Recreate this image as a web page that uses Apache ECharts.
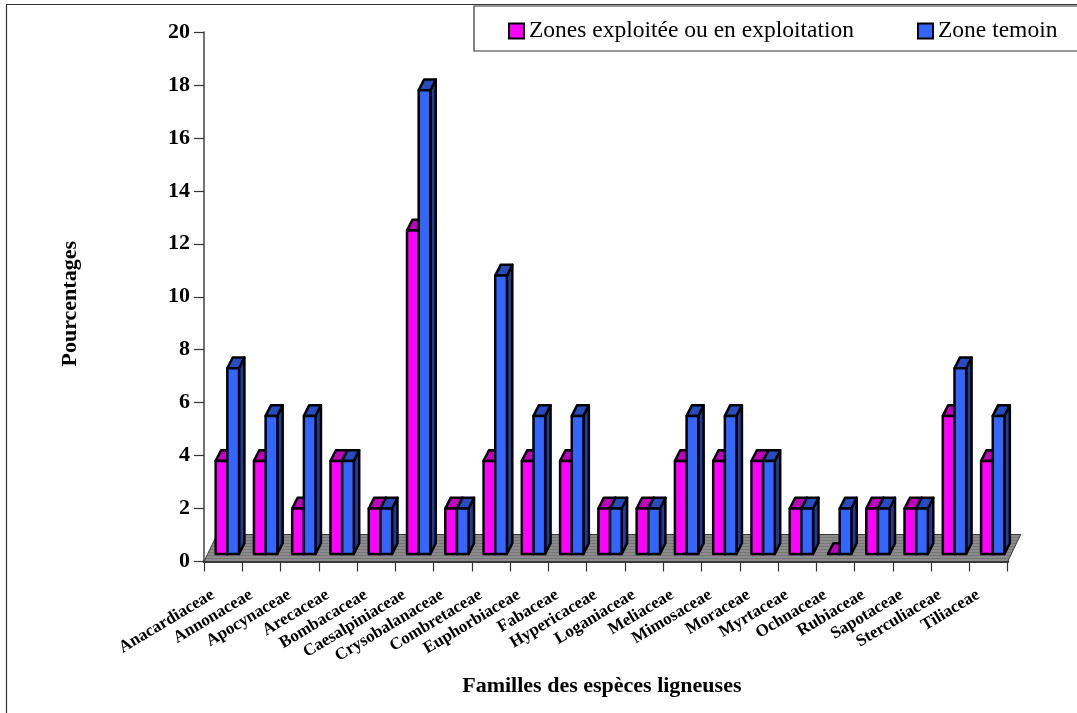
<!DOCTYPE html>
<html><head><meta charset="utf-8">
<style>html,body{margin:0;padding:0;background:#fff}#c{width:1077px;height:713px}</style>
<script src="https://cdn.jsdelivr.net/npm/echarts@6/dist/echarts.min.js"></script>
</head><body><div id="c"></div>
<script>
const categories = ['Anacardiaceae','Annonaceae','Apocynaceae','Arecaceae','Bombacaceae','Caesalpiniaceae','Crysobalanaceae','Combretaceae','Euphorbiaceae','Fabaceae','Hypericaceae','Loganiaceae','Meliaceae','Mimosaceae','Moraceae','Myrtaceae','Ochnaceae','Rubiaceae','Sapotaceae','Sterculiaceae','Tiliaceae'];
const exploitee = [3.8,3.8,2,3.8,2,12.5,2,3.8,3.8,3.8,2,2,3.8,3.8,3.8,2,0,2,2,5.5,3.8];
const temoin = [7.3,5.5,5.5,3.8,2,17.8,2,10.8,5.5,5.5,2,2,5.5,5.5,3.8,2,2,2,2,7.3,5.5];
const serieNames = ['Zones exploitée ou en exploitation','Zone temoin'];
const yTitle = 'Pourcentages', xTitle = 'Familles des espèces ligneuses';

const FONT = '"Liberation Serif","Times New Roman",serif';
const DX = 5.4, DY = 10.7, LIFT = 7.6, BAR_FRAC = 0.305, BAR_SHIFT = 4.2;
const FLOOR_DX = 13, FLOOR_DY = 27;

function makeStripe(){
  const c = document.createElement('canvas'); c.width = 4; c.height = 3;
  const g = c.getContext('2d');
  g.fillStyle = '#8c8c8c'; g.fillRect(0,0,4,3);
  g.fillStyle = '#767676'; g.fillRect(0,0,4,1);
  return c;
}
const stripe = {image: makeStripe(), repeat: 'repeat'};

function barRenderer(slot, front, top, side){
  return function(params, api){
    const i = api.value(0), v = api.value(1);
    const band = api.size([1,0])[0];
    const w = band * BAR_FRAC;
    const c0 = api.coord([i,0]), cv = api.coord([i,v]);
    const base = c0[1] - LIFT;
    const y = Math.min(cv[1], base);
    const x0 = c0[0] + BAR_SHIFT - w + slot * w, x1 = x0 + w;
    const st = (fill) => ({fill, stroke:'#000', lineWidth:2.5, lineJoin:'round'});
    const kids = [];
    kids.push({type:'polygon',shape:{points:[[x1,base],[x1+DX,base-DY],[x1+DX,y-DY],[x1,y]]},style:st(side)});
    kids.push({type:'polygon',shape:{points:[[x0,y],[x0+DX,y-DY],[x1+DX,y-DY],[x1,y]]},style:st(top)});
    if (base - y > 0.5) kids.push({type:'polygon',shape:{points:[[x0,base],[x0,y],[x1,y],[x1,base]]},style:st(front)});
    return {type:'group',children:kids};
  };
}
function floorRenderer(params, api){
  const band = api.size([1,0])[0];
  const y0 = api.coord([0,0])[1];
  const l = api.coord([0,0])[0] - band/2;
  const r = api.coord([categories.length-1,0])[0] + band/2;
  return {type:'polygon',silent:true,shape:{points:[[l,y0],[l+FLOOR_DX,y0-FLOOR_DY],[r+FLOOR_DX,y0-FLOOR_DY],[r,y0]]},
    style:{fill:stripe,stroke:'#3a3a3a',lineWidth:1}};
}

const chart = echarts.init(document.getElementById('c'),null,{renderer:'canvas'});
chart.setOption({
  animation:false,
  backgroundColor:'#fff',
  textStyle:{fontFamily:FONT},
  grid:{left:204,top:32,width:803.7,height:529.5,containLabel:false},
  legend:{
    data:serieNames,left:474,top:6,width:700,padding:[13,60,8,34],itemGap:63,itemWidth:15,itemHeight:15,
    orient:'horizontal',
    icon:'rect',borderColor:'#333',borderWidth:1.2,backgroundColor:'#fff',
    textStyle:{fontFamily:FONT,fontSize:23.5,color:'#000'},
    selectedMode:false,
    itemStyle:{borderColor:'#000',borderWidth:2}
  },
  xAxis:{
    type:'category',data:categories,boundaryGap:true,
    name:xTitle,nameLocation:'middle',nameGap:114,
    nameTextStyle:{fontFamily:FONT,fontSize:22,fontWeight:'bold',color:'#000',padding:[0,8,0,0]},
    axisLine:{show:true,lineStyle:{color:'#3a3a3a',width:3}},
    axisTick:{show:true,length:10,alignWithLabel:false,lineStyle:{color:'#333',width:1.2}},
    axisLabel:{interval:0,rotate:31,margin:26,padding:[0,12,0,0],fontFamily:FONT,fontSize:17,fontWeight:'bold',color:'#000'},
    splitLine:{show:false}
  },
  yAxis:{
    type:'value',min:0,max:20,interval:2,
    name:yTitle,nameLocation:'middle',nameGap:123,
    nameTextStyle:{fontFamily:FONT,fontSize:22,fontWeight:'bold',color:'#000',padding:[0,14,0,0]},
    axisLine:{show:true,lineStyle:{color:'#444',width:1.5}},
    axisTick:{show:true,length:10,lineStyle:{color:'#333',width:1.2}},
    axisLabel:{margin:14,fontFamily:FONT,fontSize:22,fontWeight:'bold',color:'#000'},
    splitLine:{show:false}
  },
  graphic:[
    {type:'polyline',z:-1,silent:true,shape:{points:[[6.5,713],[6.5,4.5],[1077,4.5]]},style:{fill:'none',stroke:'#333',lineWidth:1.2}}
  ],
  series:[
    {type:'custom',name:'floor',renderItem:floorRenderer,data:[[0,0]],encode:{x:0,y:1},z:1,silent:true},
    {type:'custom',name:serieNames[0],renderItem:barRenderer(0,'#FF00FF','#BF00BF','#990099'),
      itemStyle:{color:'#FF00FF'},data:exploitee.map((v,i)=>[i,v]),encode:{x:0,y:1},z:2},
    {type:'custom',name:serieNames[1],renderItem:barRenderer(1,'#3366FF','#264CBF','#1F3D99'),
      itemStyle:{color:'#3366FF'},data:temoin.map((v,i)=>[i,v]),encode:{x:0,y:1},z:3}
  ]
});
</script></body></html>
